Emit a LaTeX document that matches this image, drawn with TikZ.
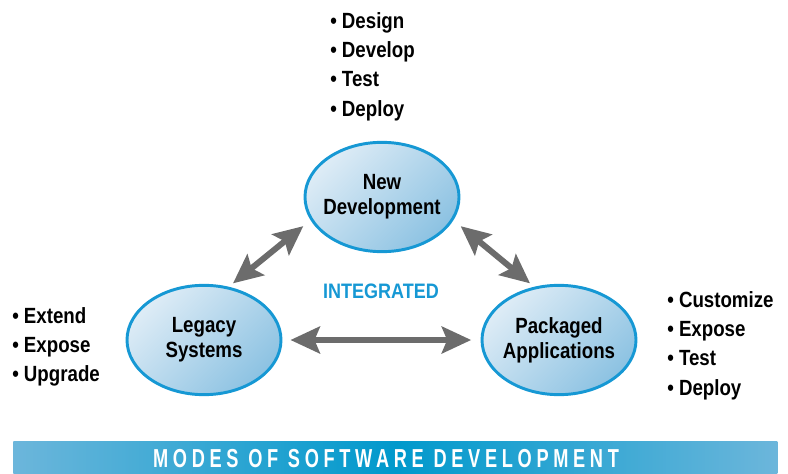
\documentclass[tikz,border=0pt]{standalone}
\usepackage{fontspec}
\setmainfont{Liberation Sans}[FakeStretch=0.85]
\newfontfamily\bannerfont{Liberation Sans}[FakeStretch=0.7,LetterSpace=18]
\newfontfamily\tagfont{Liberation Sans}[FakeStretch=0.86]
\usetikzlibrary{arrows.meta,shadings,shapes.geometric}

\definecolor{ringblue}{RGB}{22,152,212}
\definecolor{fillhi}{RGB}{222,236,246}
\definecolor{filllo}{RGB}{140,194,226}
\definecolor{arrowgray}{RGB}{108,108,108}
\definecolor{bandedge}{RGB}{108,182,219}
\definecolor{bandmid}{RGB}{0,153,204}

\begin{document}
\begin{tikzpicture}[x=0.75pt, y=-0.75pt,
  mode/.style={ellipse, draw=ringblue, line width=2.2pt, minimum width=115.5pt, minimum height=82pt, inner sep=0pt, top color=fillhi, bottom color=filllo, shading angle=45},
  modetext/.style={align=center, font=\bfseries\fontsize{16.5}{19}\selectfont},
  link/.style={draw=arrowgray, line width=4.5pt, {Stealth[length=22pt, width=20pt, inset=4pt]}-{Stealth[length=22pt, width=20pt, inset=4pt]}},
  items/.style={anchor=north west, inner sep=0pt, align=left, font=\bfseries\fontsize{16.5}{22}\selectfont}]

\useasboundingbox (0,0) rectangle (788,474);

% the three modes
\node[mode, label={[modetext]center:New\\Development}] (newdev) at (382,197) {};
\node[mode, label={[modetext]center:Legacy\\Systems}] (legacy) at (204,340) {};
\node[mode, label={[modetext]center:Packaged\\Applications}] (packaged) at (559,340) {};

% links between them
\path[link, shorten <=7pt, shorten >=4pt] (newdev.198) -- (legacy.65);
\path[link, shorten <=7pt, shorten >=4pt] (newdev.342) -- (packaged.115);
\path[link, shorten <=6pt, shorten >=7pt] (legacy.east) -- (packaged.west);

\node[font=\tagfont\bfseries\fontsize{15.7}{18}\selectfont, text=ringblue] (integ) at (381,291) {INTEGRATED};

% bullet lists
\node[items] (newlist) at (330,12) {\textbullet\ Design\\\textbullet\ Develop\\\textbullet\ Test\\\textbullet\ Deploy};
\node[items] (legacylist) at (12,307) {\textbullet\ Extend\\\textbullet\ Expose\\\textbullet\ Upgrade};
\node[items] (packlist) at (667,291) {\textbullet\ Customize\\\textbullet\ Expose\\\textbullet\ Test\\\textbullet\ Deploy};

% title band
\node[anchor=north west, minimum width=573pt, minimum height=25pt, inner sep=0pt, left color=bandedge, right color=bandedge, middle color=bandmid] (band) at (13,441) {};
\node[text=white, font=\bannerfont\bfseries\fontsize{19.5}{20}\selectfont] (title) at (386,459) {MODES OF SOFTWARE DEVELOPMENT};
\end{tikzpicture}
\end{document}
